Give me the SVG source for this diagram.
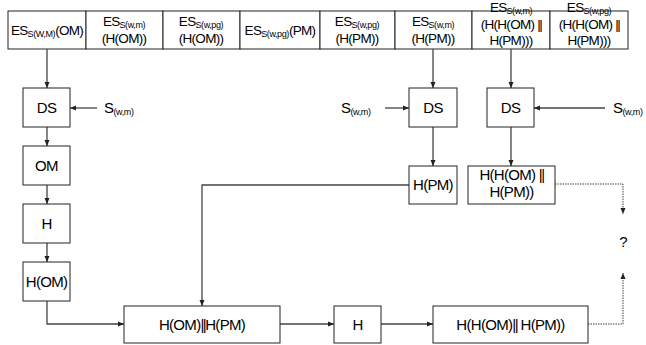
<svg xmlns="http://www.w3.org/2000/svg" width="646" height="345" viewBox="0 0 646 345">
<defs>
<marker id="ah" viewBox="0 0 6 6" refX="6" refY="3" markerWidth="6" markerHeight="6" markerUnits="userSpaceOnUse" orient="auto">
<path d="M0,0.5 L6,3 L0,5.5 Z" fill="#222"/>
</marker>
<style>
.box{fill:#fff;stroke:#222;stroke-width:1}
.t{font-family:"Liberation Sans",Arial,sans-serif;font-size:15px;fill:#000;text-anchor:middle;letter-spacing:-0.7px}
.c{font-family:"Liberation Sans",Arial,sans-serif;font-size:13.5px;fill:#000;text-anchor:middle;letter-spacing:-0.7px}
.s{font-family:"Liberation Sans",Arial,sans-serif;font-size:15px;fill:#000;letter-spacing:-0.5px}
.sub{font-size:9px;letter-spacing:-0.4px}
.bar{letter-spacing:-1.5px}
.ln{fill:none;stroke:#444;stroke-width:1.3;marker-end:url(#ah)}
.dt{fill:none;stroke:#444;stroke-width:1;stroke-dasharray:1.5 1;marker-end:url(#ah)}
</style>
</defs>
<rect width="646" height="345" fill="#fff"/>

<g id="header">
<rect class="box" x="8" y="11" width="78" height="38"/>
<rect class="box" x="86" y="11" width="77" height="38"/>
<rect class="box" x="163" y="11" width="77" height="38"/>
<rect class="box" x="240" y="11" width="80" height="38"/>
<rect class="box" x="320" y="11" width="75" height="38"/>
<rect class="box" x="395" y="11" width="77" height="38"/>
<rect class="box" x="472" y="11" width="78" height="38"/>
<rect class="box" x="550" y="11" width="78" height="38"/>
<text class="c" x="47" y="35">ES<tspan class="sub" dy="2">S(W,M)</tspan><tspan dy="-2">(OM)</tspan></text>
<text class="c" x="124" y="26">ES<tspan class="sub" dy="1.5">S(w,m)</tspan></text>
<text class="c" x="124" y="43">(H(OM))</text>
<text class="c" x="201" y="26">ES<tspan class="sub" dy="1.5">S(w,pg)</tspan></text>
<text class="c" x="201" y="43">(H(OM))</text>
<text class="c" x="280" y="35">ES<tspan class="sub" dy="2">S(w,pg)</tspan><tspan dy="-2">(PM)</tspan></text>
<text class="c" x="357" y="26">ES<tspan class="sub" dy="1.5">S(w,pg)</tspan></text>
<text class="c" x="357" y="43">(H(PM))</text>
<text class="c" x="433" y="26">ES<tspan class="sub" dy="1.5">S(w,m)</tspan></text>
<text class="c" x="433" y="43">(H(PM))</text>
<text class="c" x="511" y="12">ES<tspan class="sub" dy="1.5">S(w,m)</tspan></text>
<text class="c" x="511" y="29">(H(H(OM) <tspan class="bar">||</tspan></text>
<text class="c" x="511" y="45">H(PM)))</text>
<text class="c" x="589" y="12">ES<tspan class="sub" dy="1.5">S(w,pg)</tspan></text>
<text class="c" x="589" y="29">(H(H(OM) <tspan class="bar">||</tspan></text>
<text class="c" x="589" y="45">H(PM)))</text>
</g>

<g id="connectors">
<path class="ln" d="M47,49 V88"/>
<path class="ln" d="M97,108 H70"/>
<path class="ln" d="M47,127 V146"/>
<path class="ln" d="M47,185 V204"/>
<path class="ln" d="M47,243 V262"/>
<path class="ln" d="M47,301 V324 H124"/>
<path class="ln" d="M409,185 H202 V306"/>
<path class="ln" d="M280,324 H334"/>
<path class="ln" d="M381,324 H433"/>
<path class="ln" d="M433,49 V88"/>
<path class="ln" d="M385,108 H409"/>
<path class="ln" d="M433,127 V166"/>
<path class="ln" d="M511,49 V88"/>
<path class="ln" d="M605,108 H534"/>
<path class="ln" d="M511,127 V166"/>
<path class="dt" d="M555,184 H623 V214"/>
<path class="dt" d="M588,324 H623 V273"/>
</g>

<g id="ds1"><rect class="box" x="23" y="88" width="47" height="39"/><text class="t" x="46.5" y="113">DS</text></g>
<g id="om"><rect class="box" x="23" y="146" width="47" height="39"/><text class="t" x="46.5" y="171">OM</text></g>
<g id="h1"><rect class="box" x="23" y="204" width="47" height="39"/><text class="t" x="46.5" y="229">H</text></g>
<g id="hom"><rect class="box" x="23" y="262" width="47" height="39"/><text class="t" x="46.5" y="287">H(OM)</text></g>
<g id="ds2"><rect class="box" x="409" y="88" width="48" height="39"/><text class="t" x="433" y="113">DS</text></g>
<g id="ds3"><rect class="box" x="487" y="88" width="47" height="39"/><text class="t" x="510.5" y="113">DS</text></g>
<g id="hpm"><rect class="box" x="409" y="166" width="48" height="38"/><text class="t" x="433" y="190">H(PM)</text></g>
<g id="hh"><rect class="box" x="468" y="166" width="87" height="38"/><text class="t" x="511.5" y="180">H(H(OM) <tspan class="bar">||</tspan></text><text class="t" x="511.5" y="197">H(PM))</text></g>
<g id="concat"><rect class="box" x="124" y="306" width="156" height="37"/><text class="t" x="202" y="330">H(OM)<tspan class="bar">||</tspan>H(PM)</text></g>
<g id="h2"><rect class="box" x="334" y="306" width="47" height="37"/><text class="t" x="357.5" y="330">H</text></g>
<g id="hconcat"><rect class="box" x="433" y="306" width="155" height="37"/><text class="t" x="510.5" y="330">H(H(OM)<tspan class="bar">||</tspan> H(PM))</text></g>
<g id="q"><text class="t" x="623" y="247">?</text></g>

<g id="s1"><text class="s" x="104" y="113">S<tspan class="sub" dy="2">(w,m)</tspan></text></g>
<g id="s2"><text class="s" x="341" y="113">S<tspan class="sub" dy="2">(w,m)</tspan></text></g>
<g id="s3"><text class="s" x="613" y="113">S<tspan class="sub" dy="2">(w,m)</tspan></text></g>
</svg>
